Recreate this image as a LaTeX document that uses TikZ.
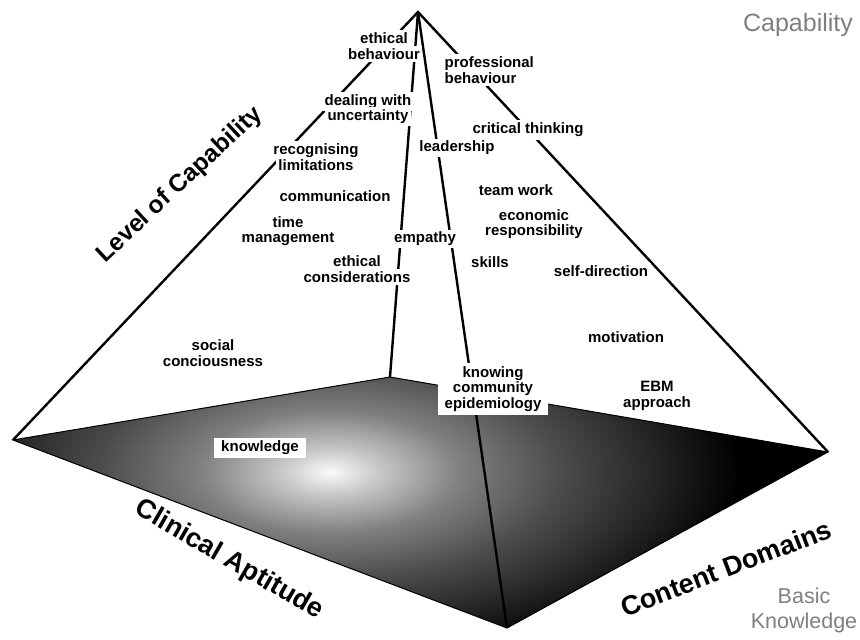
\documentclass[tikz,border=0pt]{standalone}
\usepackage{fontspec}
\setmainfont{Liberation Sans}
\definecolor{cgray}{RGB}{127,127,127}
\pgfdeclareradialshading{baseshade}{\pgfpoint{0bp}{0bp}}{color(0bp)=(black!2); color(3bp)=(black!22); color(8bp)=(black!50); color(14bp)=(black!70); color(20bp)=(black!86); color(25bp)=(black); color(50bp)=(black)}
\newcommand\wb[1]{{\setlength{\fboxsep}{2.5pt}\colorbox{white}{#1}}}
\newcommand\labfont{\fontsize{15}{15.5}\selectfont\bfseries\lineskiplimit=-50pt}
\begin{document}
\begin{tikzpicture}[x=1pt,y=-1pt,
  edge/.style={line width=2.4pt},
  lab/.style={font=\labfont, align=center, inner sep=0pt},
  boxlab/.style={font=\labfont, align=center, fill=white, inner xsep=7pt, inner ysep=3pt},
  big/.style={font=\fontsize{27}{30}\selectfont\bfseries, inner sep=0pt},
  corner/.style={text=cgray, align=center, inner sep=0pt}]

\useasboundingbox (0,0) rectangle (860,640);
\coordinate (A) at (418,12);
\coordinate (L) at (13,440);
\coordinate (B) at (390,377);
\coordinate (R) at (828,452);
\coordinate (F) at (507,628);

% base
\begin{scope}
\clip (L) -- (B) -- (R) -- (F) -- cycle;
\fill[black] (L) -- (B) -- (R) -- (F) -- cycle;
\shade[shading=baseshade] (330,472) ellipse [x radius=410, y radius=190];
\end{scope}
\draw[line width=1pt, line join=miter] (L) -- (B) -- (R) -- (F) -- cycle;

% pyramid edges
\draw[edge, line join=miter] (L) -- (A) -- (R);
\draw[edge] (A) -- (B);
\draw[edge] (A) -- (F);

% labels
\node[lab] (eb) at (384,46) {\wb{ethical}\\\wb{behaviour}};
\node[lab, align=left, anchor=west] (pb) at (442,70) {\wb{professional}\\\wb{behaviour}};
\node[lab] (du) at (368,109) {\wb{dealing with}\\\wb{uncertainty}};
\node[lab] (ct) at (528,130) {\wb{critical thinking}};
\node[lab] (ld) at (457,148) {\wb{leadership}};
\node[lab] (rl) at (316,157) {\wb{recognising}\\\wb{limitations}};
\node[lab] (cm) at (335,196) {\wb{communication}};
\node[lab] (tw) at (516,190) {\wb{team work}};
\node[lab] (er) at (534,224) {\wb{economic}\\\wb{responsibility}};
\node[lab] (tm) at (288,231) {\wb{time}\\\wb{management}};
\node[lab] (em) at (425,239) {\wb{empathy}};
\node[lab] (ec) at (357,269) {\wb{ethical}\\\wb{considerations}};
\node[lab] (sk) at (490,262) {\wb{skills}};
\node[lab] (sd) at (601,271) {\wb{self-direction}};
\node[lab] (sc) at (213,353) {\wb{social}\\\wb{conciousness}};
\node[lab] (mo) at (626,337) {\wb{motivation}};
\node[boxlab] (kc) at (493,389) {knowing\\community\\epidemiology};
\node[lab] (ea) at (657,396) {\wb{EBM}\\\wb{approach}};
\node[boxlab] (kn) at (260,448) {knowledge};

% axis titles
\node[big, font=\fontsize{24.5}{28}\selectfont\bfseries, rotate=43] (lc) at (180,185) {Level of Capability};
\node[big, rotate=-30] (ca) at (229,560) {Clinical Aptitude};
\node[big, rotate=21] (cd) at (726,568) {Content Domains};
\node[corner, font=\fontsize{25}{27}\selectfont] (cap) at (798,25) {Capability};
\node[corner, font=\fontsize{21.5}{25}\selectfont] (bk) at (804,610) {Basic\\Knowledge};
\end{tikzpicture}
\end{document}
